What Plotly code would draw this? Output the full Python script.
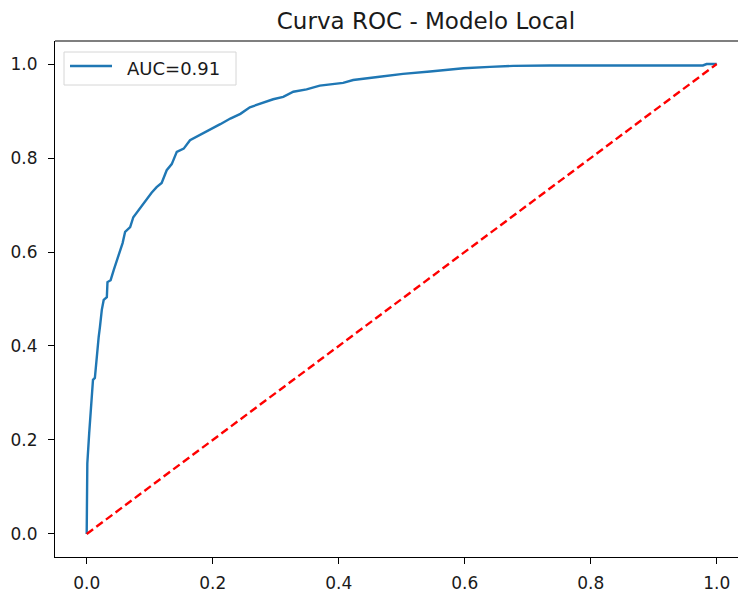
import plotly.graph_objects as go

# ROC curve points
fpr = [0, 0, 0.001, 0.004, 0.007, 0.010, 0.013, 0.016, 0.019, 0.021, 0.024, 0.027, 0.032, 0.033,
       0.038, 0.043, 0.048, 0.053, 0.057, 0.061, 0.069, 0.074, 0.080, 0.088, 0.095, 0.103, 0.111,
       0.119, 0.127, 0.135, 0.143, 0.154, 0.164, 0.180, 0.196, 0.212, 0.228, 0.244, 0.259, 0.275,
       0.296, 0.312, 0.328, 0.349, 0.370, 0.407, 0.423, 0.465, 0.502, 0.545, 0.566, 0.598, 0.640,
       0.677, 0.735, 0.978, 0.984, 1.0]
tpr = [0, 0.044, 0.150, 0.215, 0.285, 0.328, 0.332, 0.385, 0.419, 0.440, 0.477, 0.498, 0.504, 0.536,
       0.540, 0.562, 0.583, 0.604, 0.619, 0.643, 0.653, 0.674, 0.685, 0.700, 0.711, 0.726, 0.738,
       0.747, 0.774, 0.787, 0.813, 0.820, 0.838, 0.849, 0.860, 0.872, 0.884, 0.894, 0.908, 0.916,
       0.925, 0.930, 0.941, 0.946, 0.954, 0.960, 0.966, 0.973, 0.979, 0.984, 0.987, 0.991, 0.994,
       0.996, 0.997, 0.997, 1.0, 1.0]
diag_x = [0, 1]
diag_y = [0, 1]
auc_label = "AUC=0.91"
title_text = "Curva ROC - Modelo Local"
tick_vals = [0.0, 0.2, 0.4, 0.6, 0.8, 1.0]
tick_text = ["0.0", "0.2", "0.4", "0.6", "0.8", "1.0"]

FONT = "DejaVu Sans"
W, H = 738, 592
ML, MR, MT, MB = 55, 0, 41, 35
PW, PH = W - ML - MR, H - MT - MB
BLUE = "#1f77b4"


def px_x(p):
    return (p - ML) / PW


def px_y(p):
    return (H - MB - p) / PH


fig = go.Figure()
fig.add_trace(go.Scatter(x=fpr, y=tpr, mode="lines", name=auc_label, showlegend=False,
                         line=dict(color=BLUE, width=2.4)))
fig.add_trace(go.Scatter(x=diag_x, y=diag_y, mode="lines", showlegend=False,
                         line=dict(color="#ff0000", width=2.4, dash="8px,4px")))

axis_common = dict(showgrid=False, zeroline=False, showline=True, linecolor="#000000",
                   linewidth=1.2, ticks="outside", ticklen=6, tickwidth=1.2, tickcolor="#000000",
                   tickvals=tick_vals, ticktext=tick_text, automargin=False,
                   tickfont=dict(family=FONT, size=17, color="#1a1a1a"))

fig.update_layout(
    width=W, height=H,
    margin=dict(l=ML, r=MR, t=MT, b=MB),
    paper_bgcolor="white", plot_bgcolor="white",
    font=dict(family=FONT),
    title=dict(text=title_text, x=400.8 / W, xanchor="center", xref="paper",
               y=1 - 21 / H, yanchor="middle",
               font=dict(family=FONT, size=23, color="#1a1a1a")),
    xaxis=dict(range=[-0.0503, 1.0338], mirror=False, ticklabelstandoff=4, **axis_common),
    yaxis=dict(range=[-0.049, 1.049], mirror=False, ticklabelstandoff=7, **axis_common),
    showlegend=False,
)
# top spine (no right spine visible in the reference)
fig.add_shape(type="line", xref="paper", yref="paper", x0=0, x1=1, y0=1, y1=1,
              line=dict(color="#000000", width=1.2))

# legend box (matplotlib style, upper left)
fig.add_shape(type="rect", xref="paper", yref="paper",
              x0=px_x(64), x1=px_x(236), y0=px_y(85), y1=px_y(52),
              line=dict(color="#d6d6d6", width=1), fillcolor="rgba(255,255,255,0.8)")
fig.add_shape(type="line", xref="paper", yref="paper",
              x0=px_x(70), x1=px_x(112), y0=px_y(66), y1=px_y(66),
              line=dict(color=BLUE, width=2.4))
fig.add_annotation(text=auc_label, xref="paper", yref="paper", x=px_x(124.5), y=px_y(68.5),
                   xanchor="left", yanchor="middle", showarrow=False,
                   font=dict(family=FONT, size=18, color="#1a1a1a"))

fig.write_html("out.html", config={"displayModeBar": False},
               post_script="document.body.style.margin='0';document.body.style.overflow='hidden';")
